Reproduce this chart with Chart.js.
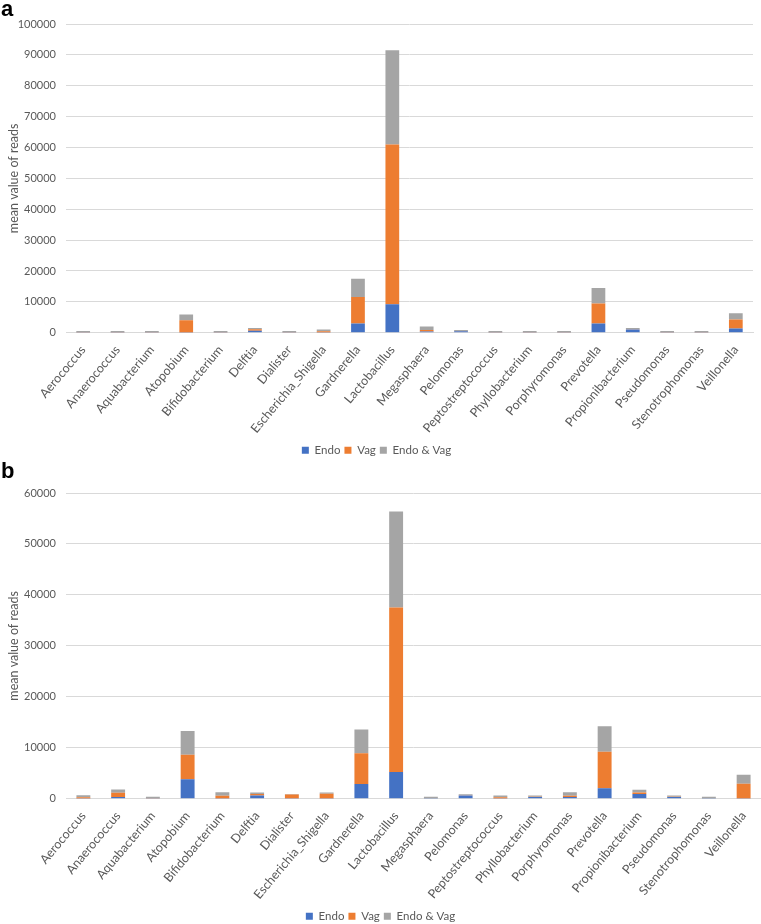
<!DOCTYPE html>
<html>
<head>
<meta charset="utf-8">
<script src="https://cdn.jsdelivr.net/npm/chart.js@4.4.0/dist/chart.umd.min.js"></script>
<style>
  body { margin: 0; background: #fff; width: 761px; height: 924px; position: relative; overflow: hidden; }
  canvas { position: absolute; left: 0; }
  .panel { position: absolute; left: 1px; font: bold 22px "Liberation Sans", Arial, sans-serif; color: #000; line-height: 1; z-index: 2; }
</style>
</head>
<body>
<div class="panel" style="top:-2px">a</div>
<canvas id="chartA" width="761" height="466" style="top:0"></canvas>
<div class="panel" style="top:460px">b</div>
<canvas id="chartB" width="761" height="472" style="top:460px"></canvas>
<script>
const genera = ['Aerococcus', 'Anaerococcus', 'Aquabacterium', 'Atopobium', 'Bifidobacterium',
  'Delftia', 'Dialister', 'Escherichia_Shigella', 'Gardnerella', 'Lactobacillus',
  'Megasphaera', 'Pelomonas', 'Peptostreptococcus', 'Phyllobacterium', 'Porphyromonas',
  'Prevotella', 'Propionibacterium', 'Pseudomonas', 'Stenotrophomonas', 'Veillonella'];

// panel a
const endoA = [50, 50, 50, 100, 50, 600, 50, 50, 2950, 9200, 400, 500, 50, 50, 50, 2950, 1000, 50, 50, 1400];
const vagA = [100, 100, 100, 3900, 100, 500, 100, 400, 8600, 51800, 500, 50, 100, 100, 100, 6500, 150, 100, 100, 2850];
const bothA = [400, 400, 400, 1900, 400, 450, 400, 550, 5900, 30500, 1100, 350, 400, 400, 400, 5000, 400, 400, 400, 2050];

// panel b
const endoB = [30, 330, 50, 3800, 50, 650, 30, 50, 2900, 5250, 20, 650, 30, 330, 330, 2030, 920, 330, 20, 50];
const vagB = [250, 850, 50, 4850, 550, 270, 800, 930, 6000, 32300, 30, 50, 250, 50, 270, 7200, 320, 50, 30, 2900];
const bothB = [400, 650, 300, 4650, 650, 320, 100, 260, 4700, 18800, 350, 150, 370, 270, 650, 4980, 530, 270, 350, 1770];

const seriesNames = ['Endo', 'Vag', 'Endo & Vag'];
const seriesColors = ['#4472C4', '#ED7D31', '#A5A5A5'];

const textColor = '#595959';
const gridColor = '#d9d9d9';
const fontFamily = 'Lato, "Open Sans", sans-serif';

function makeChart(id, series, yMax, padTop, padRight, xHeight) {
  const ctx = document.getElementById(id).getContext('2d');
  return new Chart(ctx, {
    type: 'bar',
    data: {
      labels: genera,
      datasets: series.map((values, i) => ({
        label: seriesNames[i],
        data: values,
        backgroundColor: seriesColors[i],
        borderWidth: 0,
        categoryPercentage: 0.4,
        barPercentage: 1
      }))
    },
    options: {
      responsive: false,
      animation: false,
      layout: { padding: { top: padTop, right: padRight, left: 0, bottom: 0 } },
      plugins: {
        legend: {
          position: 'bottom',
          labels: {
            boxWidth: 7,
            boxHeight: 7,
            padding: 4,
            color: textColor,
            font: { family: fontFamily, size: 11.5 }
          }
        },
        tooltip: { enabled: false }
      },
      scales: {
        x: {
          stacked: true,
          grid: { display: false },
          border: { display: true, color: gridColor },
          ticks: {
            autoSkip: false,
            minRotation: 50,
            maxRotation: 50,
            padding: 2,
            color: textColor,
            font: { family: fontFamily, size: 12.5 }
          },
          afterFit: (scale) => { scale.height = xHeight; }
        },
        y: {
          stacked: true,
          min: 0,
          max: yMax,
          grid: { color: gridColor, drawTicks: false },
          border: { display: false },
          ticks: {
            stepSize: 10000,
            padding: 10,
            color: textColor,
            font: { family: fontFamily, size: 11 },
            callback: (value) => String(value)
          },
          title: {
            display: true,
            text: 'mean value of reads',
            color: textColor,
            padding: { top: 6, bottom: 0 },
            font: { family: fontFamily, size: 12.5 }
          },
          afterFit: (scale) => { scale.width = 66; }
        }
      }
    }
  });
}

makeChart('chartA', [endoA, vagA, bothA], 100000, 24, 8, 107.8);
makeChart('chartB', [endoB, vagB, bothB], 60000, 33, 0, 107.8);
</script>
</body>
</html>
